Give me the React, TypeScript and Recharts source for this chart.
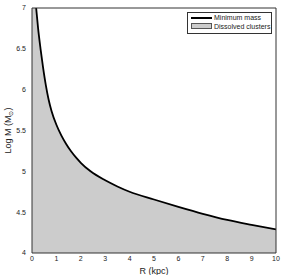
import React from "react";
import { ComposedChart, Area, Line, XAxis, YAxis, Label } from "recharts";

// Galactocentric radius R (kpc) and log minimum mass (Msun)
const radii = [0, 0.17, 0.25, 0.35, 0.45, 0.57, 0.68, 0.8, 1.0, 1.2, 1.4, 1.6, 1.8, 2.0, 2.4, 3.0, 3.5, 4, 5, 6, 7, 8, 9, 10];
const minMass = [null, 7.0, 6.75, 6.5, 6.28, 6.05, 5.88, 5.74, 5.57, 5.44, 5.335, 5.245, 5.17, 5.105, 5.0, 4.89, 4.815, 4.75, 4.655, 4.565, 4.48, 4.405, 4.345, 4.29];
const dissolvedTop = [7.0, 7.0, 6.75, 6.5, 6.28, 6.05, 5.88, 5.74, 5.57, 5.44, 5.335, 5.245, 5.17, 5.105, 5.0, 4.89, 4.815, 4.75, 4.655, 4.565, 4.48, 4.405, 4.345, 4.29];
const xTicks = [0, 1, 2, 3, 4, 5, 6, 7, 8, 9, 10];
const yTicks = [4, 4.5, 5, 5.5, 6, 6.5, 7];
const yTopTick = 7;
const legendLabels = ["Minimum mass", "Dissolved clusters"];

const data = radii.map((r, i) => ({ r, mass: minMass[i], fill: dissolvedTop[i] }));

const FONT = "'Liberation Sans', Arial, sans-serif";
const AXIS = "#333";
const Y_DOMAIN: [number, number] = [4, 7];

const YTitle = (props: any) => {
  const vb = props.viewBox || {};
  const cy = (vb.y || 0) + (vb.height || 0) / 2;
  const x = 8;
  return (
    <text x={x} y={cy} transform={`rotate(-90, ${x}, ${cy})`} textAnchor="middle" fontSize={9} fontFamily={FONT} fill="#222" dominantBaseline="central">
      Log M (M
      <tspan fontSize={6} dy={3}>⊙</tspan>
      <tspan dy={-3}>)</tspan>
    </text>
  );
};

const YTick = (props: any) => {
  const { x, y, payload } = props;
  if (payload.value === yTopTick) return <g />;
  return (
    <text x={x} y={y} dy="0.355em" textAnchor="end" fontSize={7} fontFamily={FONT} fill="#222">
      {String(payload.value)}
    </text>
  );
};

export default function App() {
  const tickStyle = { fontSize: 7, fontFamily: FONT, fill: "#222" };
  return (
    <div style={{ position: "absolute", left: 0, top: 0, width: 282, height: 275, background: "#fff" }}>
      <ComposedChart width={282} height={275} data={data} margin={{ top: 8, right: 6, bottom: 0, left: 0 }}>
        <XAxis
          dataKey="r"
          type="number"
          domain={[0, 10]}
          ticks={xTicks}
          interval={0}
          allowDataOverflow
          height={22}
          tickLine={false}
          tickSize={0}
          tickMargin={3}
          tick={tickStyle}
          axisLine={{ stroke: AXIS }}
        >
          <Label value="R (kpc)" position="insideBottom" offset={1} style={{ fontSize: 9, fontFamily: FONT, fill: "#222" }} />
        </XAxis>
        <XAxis xAxisId="b2" dataKey="r" type="number" domain={[0, 10]} ticks={xTicks} interval={0} allowDataOverflow orientation="bottom" mirror tick={false} tickSize={4} tickLine={{ stroke: AXIS }} axisLine={false} />
        <XAxis xAxisId="top" dataKey="r" type="number" domain={[0, 10]} ticks={xTicks} interval={0} allowDataOverflow orientation="top" mirror tick={false} tickSize={4} tickLine={{ stroke: AXIS }} axisLine={{ stroke: AXIS }} />
        <YAxis
          type="number"
          domain={Y_DOMAIN}
          ticks={yTicks}
          interval={0}
          allowDataOverflow
          width={32}
          tickLine={false}
          tickSize={0}
          tickMargin={6}
          tick={<YTick />}
          axisLine={{ stroke: AXIS }}
        >
          <Label content={<YTitle />} />
        </YAxis>
        <YAxis yAxisId="l2" type="number" domain={Y_DOMAIN} ticks={yTicks} interval={0} allowDataOverflow orientation="left" mirror tick={false} tickSize={4} tickLine={{ stroke: AXIS }} axisLine={false} />
        <YAxis yAxisId="right" type="number" domain={Y_DOMAIN} ticks={yTicks} interval={0} allowDataOverflow orientation="right" mirror tick={false} tickSize={4} tickLine={{ stroke: AXIS }} axisLine={{ stroke: AXIS }} />
        <Area dataKey="fill" type="monotone" baseValue={4} stroke="none" fill="#cccccc" fillOpacity={1} isAnimationActive={false} />
        <Line dataKey="mass" type="monotone" stroke="#000" strokeWidth={1.8} dot={false} connectNulls={false} isAnimationActive={false} />
      </ComposedChart>
      <div
        style={{
          position: "absolute",
          left: 14,
          top: 4,
          width: 12,
          lineHeight: "8px",
          textAlign: "right",
          fontFamily: FONT,
          fontSize: 7,
          color: "#222",
          zIndex: 10,
        }}
      >
        {String(yTopTick)}
      </div>
      <div
        style={{
          position: "absolute",
          left: 187,
          top: 12,
          width: 85,
          height: 22,
          boxSizing: "border-box",
          border: "1px solid #333",
          background: "#fff",
          fontFamily: FONT,
          fontSize: 7,
          color: "#222",
        }}
      >
        <div style={{ position: "absolute", left: 3, top: 3.5, width: 21, height: 2, background: "#000" }} />
        <div style={{ position: "absolute", left: 26, top: 0, lineHeight: "9px", whiteSpace: "nowrap" }}>{legendLabels[0]}</div>
        <div style={{ position: "absolute", left: 3, top: 10, width: 21, height: 6, boxSizing: "border-box", background: "#cccccc", border: "1px solid #555" }} />
        <div style={{ position: "absolute", left: 26, top: 9, lineHeight: "9px", whiteSpace: "nowrap" }}>{legendLabels[1]}</div>
      </div>
    </div>
  );
}
